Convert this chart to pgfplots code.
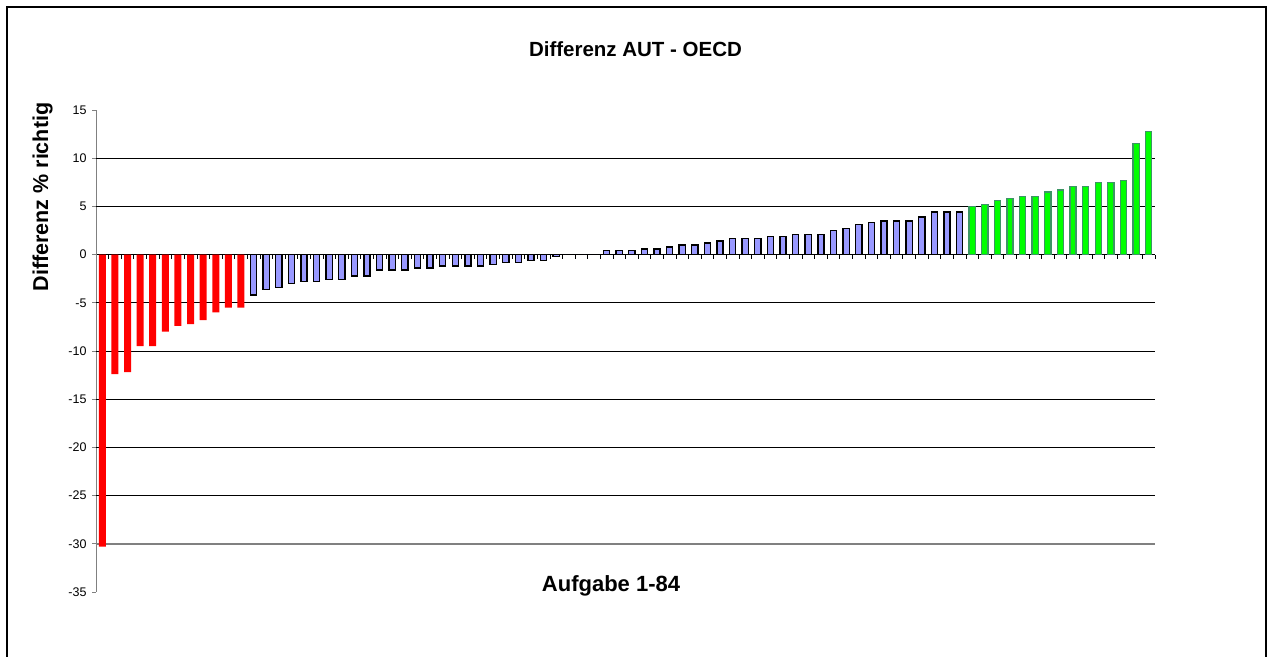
\documentclass[border=0pt]{standalone}
\usepackage{fontspec}
\setmainfont{Liberation Sans}
\usepackage{pgfplots}
\pgfplotsset{compat=1.18}
\definecolor{negred}{RGB}{255,0,0}
\definecolor{midblue}{RGB}{153,153,255}
\definecolor{posgreen}{RGB}{0,255,0}
\definecolor{posedge}{RGB}{60,150,100}
\definecolor{axgray}{RGB}{128,128,128}
\begin{document}
\begin{tikzpicture}
\path[use as bounding box] (0,0) rectangle (1271bp,657bp);
% outer chart frame
\draw[line width=1.6bp] (7bp,-20bp) -- (7bp,650bp) -- (1266bp,650bp) -- (1266bp,-20bp);
\node[font=\fontsize{20.5bp}{24bp}\selectfont\bfseries, anchor=base] at (635.5bp,600.3bp) {Differenz AUT - OECD};
\node[rotate=90, anchor=base, font=\fontsize{21.5bp}{24bp}\selectfont\bfseries] at (48bp,460bp) {Differenz \% richtig};
\begin{axis}[
  at={(96bp,65bp)}, anchor=south west,
  scale only axis, width=1059bp, height=482bp,
  xmin=0.5, xmax=84.5, ymin=-35, ymax=15,
  axis y line*=left, axis x line*=middle,
  y axis line style={axgray, line width=1bp},
  x axis line style={black, line width=0.8bp},
  tick align=outside,
  major tick length=4bp,
  xtick={0.5,1.5,...,84.5}, xticklabels={},
  xtick style={black, line width=0.7bp},
  ytick={-35,-30,...,15},
  yticklabels={-35,-30,-25,-20,-15,-10,-5,0,5,10,15},
  ytick style={axgray, line width=0.8bp},
  yticklabel style={font=\fontsize{12.5bp}{14bp}\selectfont, xshift=-2bp},
  extra y ticks={-25,-20,-15,-10,-5,5,10},
  extra y tick labels={},
  extra y tick style={grid=major, major grid style={black, line width=0.8bp}},
  clip=false,
]
\draw[axgray, line width=1.6bp] (axis cs:0.5,-30) -- (axis cs:84.5,-30);
% items clearly below the OECD mean
\addplot[ybar, bar width=7bp, bar shift=0pt, fill=negred, draw=none] coordinates {
 (1,-30.3) (2,-12.4) (3,-12.2) (4,-9.5) (5,-9.5) (6,-8.0) (7,-7.4) (8,-7.2)
 (9,-6.8) (10,-6.0) (11,-5.5) (12,-5.5)
};
% items within +/- 5 points
\addplot[ybar, bar width=6.2bp, bar shift=0pt, fill=midblue, draw=black, line width=1.4bp] coordinates {
 (13,-4.2) (14,-3.6) (15,-3.4) (16,-3.0) (17,-2.8) (18,-2.8) (19,-2.6) (20,-2.6)
 (21,-2.2) (22,-2.2) (23,-1.6) (24,-1.6) (25,-1.6) (26,-1.4) (27,-1.4) (28,-1.2)
 (29,-1.2) (30,-1.2) (31,-1.2) (32,-1.0) (33,-0.8) (34,-0.8) (35,-0.6) (36,-0.6)
 (37,-0.2) (38,0) (39,0) (40,0) (41,0.4) (42,0.4) (43,0.4) (44,0.6)
 (45,0.6) (46,0.8) (47,1.0) (48,1.0) (49,1.2) (50,1.4) (51,1.7) (52,1.7)
 (53,1.7) (54,1.9) (55,1.9) (56,2.1) (57,2.1) (58,2.1) (59,2.5) (60,2.7)
 (61,3.1) (62,3.3) (63,3.5) (64,3.5) (65,3.5) (66,3.9) (67,4.4) (68,4.4)
 (69,4.4)
};
% items clearly above the OECD mean
\addplot[ybar, bar width=6.2bp, bar shift=0pt, fill=posgreen, draw=posedge, line width=1.3bp] coordinates {
 (70,5.0) (71,5.2) (72,5.6) (73,5.8) (74,6.0) (75,6.0) (76,6.5) (77,6.7)
 (78,7.1) (79,7.1) (80,7.5) (81,7.5) (82,7.7) (83,11.5) (84,12.8)
};
\end{axis}
\node[anchor=base, font=\fontsize{22bp}{26bp}\selectfont\bfseries] at (611bp,65.3bp) {Aufgabe 1-84};
\end{tikzpicture}
\end{document}
